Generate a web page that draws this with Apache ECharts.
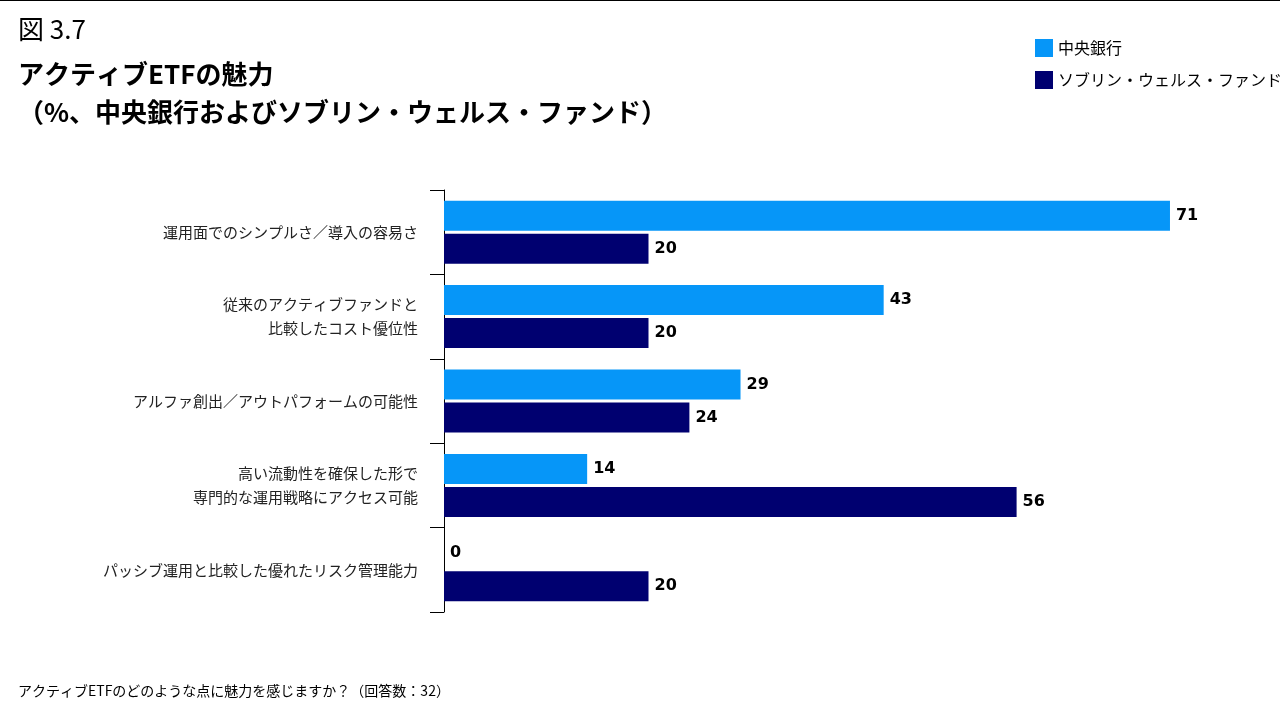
<!DOCTYPE html>
<html><head><meta charset="utf-8">
<script src="https://cdn.jsdelivr.net/npm/echarts@6/dist/echarts.min.js"></script>
<style>html,body{margin:0;padding:0;background:#fff}#c{width:1280px;height:720px}</style>
</head><body><div id="c"></div>
<script>
const categories = ['運用面でのシンプルさ／導入の容易さ','従来のアクティブファンドと\n比較したコスト優位性','アルファ創出／アウトパフォームの可能性','高い流動性を確保した形で\n専門的な運用戦略にアクセス可能','パッシブ運用と比較した優れたリスク管理能力'];
const seriesNames = ['中央銀行','ソブリン・ウェルス・ファンド'];
const centralBank = [71,43,29,14,0];
const swf = [20,20,24,56,20];
const F = '"Noto Sans CJK JP", sans-serif';
const chart = echarts.init(document.getElementById('c'));
chart.setOption({
  animation:false,
  textStyle:{fontFamily:F},
  graphic:[
    {type:'line',shape:{x1:0,y1:0.5,x2:1280,y2:0.5},style:{stroke:'#000',lineWidth:1}},
    {type:'text',left:18,top:16,style:{text:'図 3.7',font:'26px '+F,fill:'#000'}},
    {type:'text',left:18,top:55,style:{text:'アクティブETFの魅力\n（%、中央銀行およびソブリン・ウェルス・ファンド）',font:'bold 26px '+F,fill:'#000',lineHeight:38}},
    {type:'text',left:18,top:684,style:{text:'アクティブETFのどのような点に魅力を感じますか？（回答数：32）',font:'14px '+F,fill:'#000'}}
  ],
  legend:{orient:'vertical',left:1030,top:34,itemWidth:18,itemHeight:18,itemGap:14,icon:'rect',
    textStyle:{fontSize:16,color:'#000',fontFamily:F},data:seriesNames},
  grid:{left:444,right:18,top:190,bottom:108},
  xAxis:{type:'value',min:0,max:80,show:false},
  yAxis:{type:'category',data:categories,inverse:true,
    axisLine:{lineStyle:{color:'#000'}},
    axisTick:{show:true,length:14,lineStyle:{color:'#000'}},
    axisLabel:{fontSize:15,color:'#222',margin:26,lineHeight:24,align:'right',fontFamily:F}},
  series:[
    {name:seriesNames[0],type:'bar',data:centralBank,barWidth:30,barGap:'10%',itemStyle:{color:'#0696F8'},
     label:{show:true,position:'right',fontWeight:'bold',fontSize:16,color:'#000',distance:6,fontFamily:'Verdana, "DejaVu Sans", sans-serif'}},
    {name:seriesNames[1],type:'bar',data:swf,barWidth:30,itemStyle:{color:'#000070'},
     label:{show:true,position:'right',fontWeight:'bold',fontSize:16,color:'#000',distance:6,fontFamily:'Verdana, "DejaVu Sans", sans-serif'}}
  ]
});
</script></body></html>
